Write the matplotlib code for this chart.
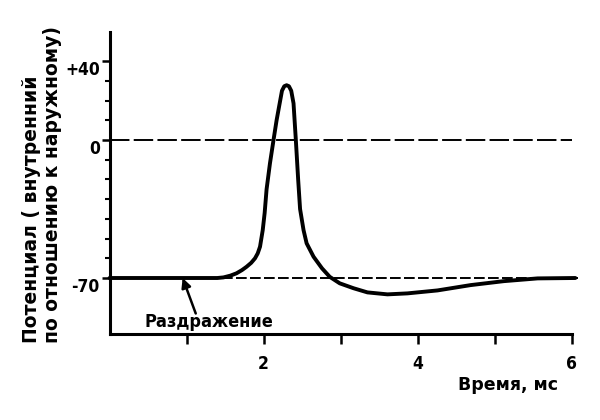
import matplotlib as mpl
mpl.use("agg", force=True)
import matplotlib.pyplot as plt
import matplotlib.transforms as mtransforms

# action potential
time_ms = [0.0, 1.0, 1.40, 1.48, 1.57, 1.65, 1.72, 1.78, 1.84, 1.89, 1.925,
           1.955, 1.99, 2.015, 2.04, 2.084, 2.13, 2.17, 2.21, 2.24, 2.27,
           2.30, 2.33, 2.36, 2.39, 2.42, 2.45, 2.475, 2.52, 2.56, 2.65,
           2.76, 2.86, 2.99, 3.17, 3.35, 3.61, 3.87, 4.26, 4.69, 5.12,
           5.56, 6.05]
potential_mv = [-70, -70, -70, -69.7, -68.8, -67.6, -66.0, -64.3, -62.3, -60.0, -57.5,
                -54.1, -45.7, -37.0, -25.0, -11.8, 0, 10, 18.6, 25.0, 27.3,
                27.8, 27.3, 25.0, 18.6, 0, -20.0, -35.0, -45.7, -52.4, -59.2,
                -65.1, -69.4, -72.7, -75.2, -77.3, -78.3, -77.8, -76.3, -73.6, -71.6,
                -70.2, -70]

# reference levels: (value, right end in ms, dash pattern)
ref_levels = [0, -70]
ref_ends = [6.0, 6.08]
ref_dashes = [(10, 2.2), (5.5, 1.7)]

ytick_vals = [-70, 0, 40]
ytick_labels = ['-70', '0', '+40']
yminor_vals = [-60, -50, -40, -30, -20, -10, 10, 20, 30]
xtick_vals = [1, 2, 3, 4, 5, 6]
xtick_labels = ['', '2', '', '4', '', '6']

stim_time = 0.95
font = dict(family='DejaVu Sans', weight='bold', stretch='condensed')
wide = dict(family='DejaVu Sans', weight='bold')

fig = plt.figure(figsize=(6, 4.2), dpi=100)
ax = fig.add_axes([0.1825, 0.2048, 0.77, 0.719])

ax.plot(time_ms, potential_mv, color='black', lw=2.8,
        solid_capstyle='round', solid_joinstyle='round', clip_on=False, zorder=3)

for lvl, end, dsh in zip(ref_levels, ref_ends, ref_dashes):
    ax.plot([0, end], [lvl, lvl], color='black', lw=1.4,
            dashes=dsh, clip_on=False, zorder=2)

ax.set_xlim(0, 6)
ax.set_ylim(-98.4, 54.8)

for side in ['top', 'right']:
    ax.spines[side].set_visible(False)
for side in ['left', 'bottom']:
    ax.spines[side].set_linewidth(2.2)

ax.set_yticks(ytick_vals)
ax.set_yticklabels(ytick_labels, fontsize=12.5, **font)
ax.set_yticks(yminor_vals, minor=True)
ax.tick_params(axis='y', which='major', length=6, width=1.8, pad=1)
ax.tick_params(axis='y', which='minor', length=3.5, width=1.5)

ax.set_xticks(xtick_vals)
ax.set_xticklabels(xtick_labels, fontsize=12.5, **font)
ax.tick_params(axis='x', which='major', length=7, width=1.8, pad=8)

shift = mtransforms.ScaledTranslation(0, -0.07, fig.dpi_scale_trans)
for lab in ax.get_yticklabels():
    lab.set_transform(lab.get_transform() + shift)

ax.annotate('', xy=(stim_time, -70), xytext=(1.12, -88),
            arrowprops=dict(arrowstyle='-|>', color='black', lw=1.8,
                            mutation_scale=14, shrinkA=0, shrinkB=0))
ax.text(0.46, -92.4, 'Раздражение', fontsize=13, ha='left', va='center', **font)

fig.text(508 / 600, 1 - 385 / 420, 'Время, мс', fontsize=12.5, ha='center', va='center', **wide)
fig.text(0.07, 1 - 343 / 420, 'Потенциал ( внутренний\nпо отношению к наружному)',
         rotation=90, fontsize=13.5, ha='center', va='bottom',
         multialignment='left', linespacing=1.15, **wide)

fig.savefig('out.png', dpi=100)
plt.close(fig)
